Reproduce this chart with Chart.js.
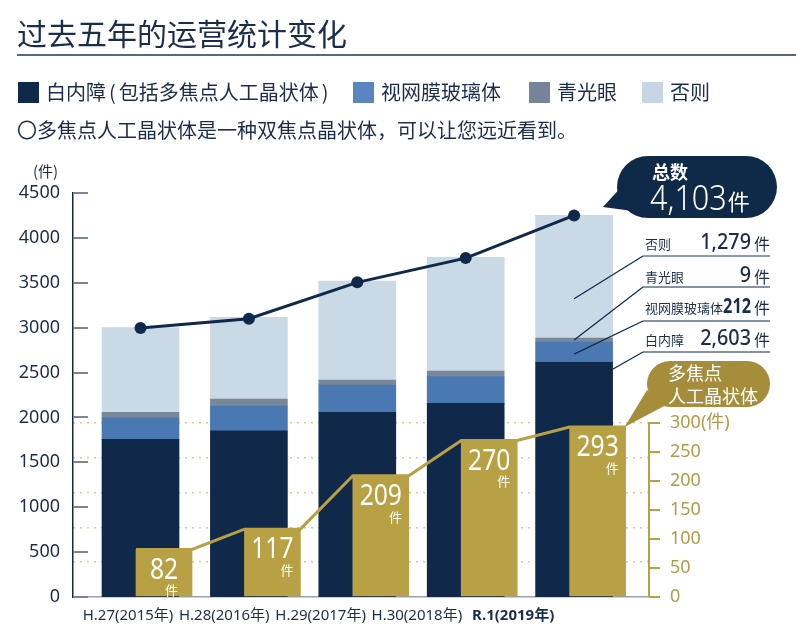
<!DOCTYPE html>
<html>
<head>
<meta charset="utf-8">
<script src="https://cdn.jsdelivr.net/npm/chart.js@4.4.0/dist/chart.umd.min.js"></script>
<style>
    body { margin: 0; background: #fff; }
    #wrap { position: relative; width: 796px; height: 644px; overflow: hidden; font-family: "Noto Sans CJK SC", "Noto Sans", sans-serif; color: #1b2d4b; }
    canvas { position: absolute; left: 0; top: 0; }
    .title { position: absolute; left: 17px; top: 12px; font-size: 30px; line-height: 40px; white-space: nowrap; }
    .rule { position: absolute; left: 17px; right: 0; top: 54px; height: 2px; background: #56697f; }
    .item { position: absolute; top: 78px; font-size: 20px; line-height: 28px; white-space: nowrap; }
    .item i { display: inline-block; width: 21px; height: 21px; margin-right: 7px; vertical-align: -3px; }
    .item b { font-weight: normal; margin: 0 3px; }
    .note { position: absolute; left: 17px; top: 116px; font-size: 20px; line-height: 28px; white-space: nowrap; }
    .unit { position: absolute; left: 33px; top: 161px; font-size: 15px; line-height: 20px; }
</style>
</head>
<body>
<div id="wrap">
    <canvas id="chart" width="796" height="644"></canvas>
    <div class="title">过去五年的运营统计变化</div>
    <div class="rule"></div>
    <div class="item" style="left:18px"><i style="background:#10284a"></i>白内障<b>(</b>包括多焦点人工晶状体<b>)</b></div>
    <div class="item" style="left:353px"><i style="background:#5a85c0"></i>视网膜玻璃体</div>
    <div class="item" style="left:529px"><i style="background:#75849a"></i>青光眼</div>
    <div class="item" style="left:642px"><i style="background:#c6d6e4"></i>否则</div>
    <div class="note">〇多焦点人工晶状体是一种双焦点晶状体，可以让您远近看到。</div>
    <div class="unit">(件)</div>
</div>
<script>
// -------------------------------------------------------------------------- Data

const years = ['H.27(2015年)', 'H.28(2016年)', 'H.29(2017年)', 'H.30(2018年)', 'R.1(2019年)']

const cataract = [1756, 1852, 2057, 2157, 2615]
const retina = [241, 275, 304, 297, 225]
const glaucoma = [60, 78, 56, 63, 45]
const others = [943, 910, 1103, 1267, 1365]
const totals = [2995, 3100, 3505, 3775, 4250]
const multifocal = [82, 117, 209, 270, 293]

const leftTicks = [0, 500, 1000, 1500, 2000, 2500, 3000, 3500, 4000, 4500]
const rightTicks = [0, 50, 100, 150, 200, 250, 300]
const dotTicks = [60, 120, 180, 240, 300]

const totalLabel = '4,103'
const breakdown = [
    ['否则', '1,279'],
    ['青光眼', '9'],
    ['视网膜玻璃体', '212'],
    ['白内障', '2,603']
]

// -------------------------------------------------------------------------- Colours

const navy = '#10284a'
const blue = '#4a78b3'
const grey = '#7a8799'
const light = '#c9d9e6'
const gold = '#b8a044'
const goldDark = '#a58d3c'
const ink = '#1b2d4b'

const numFont = '"Noto Sans", "Noto Sans CJK SC", sans-serif'
const cjkFont = '"Noto Sans CJK SC", "Noto Sans", sans-serif'

// gold bars sit a little to the right of each stacked bar
const goldShift = 0.217
const goldHalf = 0.258

const goldSteps = []
multifocal.forEach((v, i) => {
    goldSteps.push({ x: i + goldShift - goldHalf, y: v })
    goldSteps.push({ x: i + goldShift + goldHalf, y: v })
})

const stackSet = (label, values, color, order) => ({
    label: label,
    data: values.map((v, i) => ({ x: i, y: v })),
    backgroundColor: color,
    barThickness: 77,
    grouped: false,
    order: order,
    yAxisID: 'y'
})

// narrow numbers, like the condensed face of the original
const narrowText = (ctx, txt, x, y, sx) => {
    ctx.save()
    ctx.translate(x, y)
    ctx.scale(sx, 1)
    ctx.fillText(txt, 0, 0)
    ctx.restore()
}

// -------------------------------------------------------------------------- Plugin

const annotate = {
    id: 'annotate',
    beforeDatasetsDraw(chart) {
        const { ctx, chartArea } = chart
        const y = chart.scales.y
        const y2 = chart.scales.y2
        ctx.save()
        ctx.strokeStyle = '#7b8695'
        ctx.lineWidth = 2
        leftTicks.forEach(v => {
            const py = Math.round(y.getPixelForValue(v))
            ctx.beginPath()
            ctx.moveTo(chartArea.left, py)
            ctx.lineTo(chartArea.left + 15, py)
            ctx.stroke()
        })
        ctx.strokeStyle = gold
        ctx.beginPath()
        ctx.moveTo(chartArea.right, y2.getPixelForValue(0))
        ctx.lineTo(chartArea.right, y2.getPixelForValue(300) - 1)
        ctx.stroke()
        ctx.restore()
    },
    afterDatasetsDraw(chart) {
        const { ctx } = chart
        ctx.save()

        // numbers inside the gold bars
        chart.getDatasetMeta(4).data.forEach((bar, i) => {
            ctx.fillStyle = '#fff'
            ctx.textBaseline = 'middle'
            ctx.textAlign = 'center'
            ctx.font = '29px ' + numFont
            const txt = String(multifocal[i])
            const w = ctx.measureText(txt).width * 0.85
            narrowText(ctx, txt, bar.x, bar.y + 21, 0.85)
            ctx.textAlign = 'right'
            ctx.font = '13px ' + cjkFont
            ctx.fillText('件', bar.x + w / 2, bar.y + 41)
        })

        // breakdown of the last year
        const last = years.length - 1
        const segs = [3, 2, 1, 0].map(d => chart.getDatasetMeta(d).data[last])
        const anchors = [
            [segs[0].x, segs[0].y + 0.68 * (segs[0].base - segs[0].y)],
            [segs[1].x, (segs[1].y + segs[1].base) / 2],
            [segs[2].x, (segs[2].y + segs[2].base) / 2 + 2],
            [segs[3].x + segs[3].width / 2, segs[3].y + 7]
        ]
        const rowY = [243, 276, 307, 339]
        const lineY = [256, 287, 321, 352]
        breakdown.forEach((row, k) => {
            ctx.strokeStyle = k === 0 ? '#8b9bb1' : navy
            ctx.lineWidth = k === 0 ? 2 : 1.2
            ctx.beginPath()
            ctx.moveTo(770, lineY[k])
            ctx.lineTo(643, lineY[k])
            ctx.stroke()
            ctx.strokeStyle = navy
            ctx.lineWidth = 1.2
            ctx.beginPath()
            ctx.moveTo(643, lineY[k])
            ctx.lineTo(anchors[k][0], anchors[k][1])
            ctx.stroke()

            ctx.fillStyle = ink
            ctx.textBaseline = 'middle'
            ctx.textAlign = 'left'
            ctx.font = '13px ' + cjkFont
            ctx.fillText(row[0], 645, rowY[k] + 1)
            ctx.textAlign = 'right'
            ctx.font = (k === 2 ? 'bold ' : '500 ') + '22px ' + numFont
            narrowText(ctx, row[1], 751, rowY[k], k === 2 ? 0.74 : 0.9)
            ctx.textAlign = 'left'
            ctx.font = '16px ' + cjkFont
            ctx.fillText('件', 754, rowY[k] + 1)
        })

        // navy bubble: total
        ctx.fillStyle = '#0f2948'
        ctx.beginPath()
        ctx.roundRect(617, 156, 160, 62, 31)
        ctx.fill()
        ctx.beginPath()
        ctx.moveTo(603, 207)
        ctx.lineTo(624, 184)
        ctx.lineTo(640, 212)
        ctx.closePath()
        ctx.fill()
        ctx.fillStyle = '#fff'
        ctx.textAlign = 'left'
        ctx.textBaseline = 'middle'
        ctx.font = 'bold 18px ' + cjkFont
        ctx.fillText('总数', 652, 172)
        ctx.font = '300 34px ' + numFont
        const tw = ctx.measureText(totalLabel).width * 0.9
        narrowText(ctx, totalLabel, 650, 200, 0.9)
        ctx.font = '22px ' + cjkFont
        ctx.fillText('件', 650 + tw + 1, 202)

        // gold bubble: multifocal
        const g = chart.getDatasetMeta(4).data[last]
        ctx.fillStyle = goldDark
        ctx.beginPath()
        ctx.roundRect(647, 361, 123, 46, 23)
        ctx.fill()
        ctx.beginPath()
        ctx.moveTo(g.x + g.width / 2 - 1, g.y)
        ctx.lineTo(647, 390)
        ctx.lineTo(666, 405)
        ctx.closePath()
        ctx.fill()
        ctx.fillStyle = '#fff'
        ctx.font = '18px ' + cjkFont
        ctx.fillText('多焦点', 668, 373)
        ctx.fillText('人工晶状体', 668, 396)

        ctx.restore()
    }
}

// -------------------------------------------------------------------------- Chart

const xMin = -0.6227
const xMax = 4.691

new Chart(document.getElementById('chart'), {
    type: 'bar',
    data: {
        datasets: [
            stackSet('白内障', cataract, navy, 3),
            stackSet('视网膜玻璃体', retina, blue, 4),
            stackSet('青光眼', glaucoma, grey, 5),
            stackSet('否则', others, light, 6),
            {
                label: '多焦点人工晶状体',
                data: multifocal.map((v, i) => ({ x: i + goldShift, y: v })),
                backgroundColor: gold,
                barThickness: 56,
                grouped: false,
                order: 2,
                yAxisID: 'y2'
            },
            {
                type: 'line',
                label: 'steps',
                data: goldSteps,
                borderColor: gold,
                borderWidth: 3,
                pointRadius: 0,
                tension: 0,
                order: 1,
                yAxisID: 'y2'
            },
            {
                type: 'line',
                label: '总数',
                data: totals.map((v, i) => ({ x: i, y: v })),
                borderColor: navy,
                backgroundColor: navy,
                borderWidth: 3,
                pointRadius: 6,
                pointBackgroundColor: navy,
                pointBorderWidth: 0,
                tension: 0,
                stack: 'total',
                order: 0,
                yAxisID: 'y'
            }
        ]
    },
    options: {
        responsive: false,
        animation: false,
        events: [],
        layout: { padding: { left: 0, top: 193, right: 57, bottom: 0 } },
        plugins: {
            legend: { display: false },
            tooltip: { enabled: false }
        },
        scales: {
            x: {
                type: 'linear',
                position: 'bottom',
                min: xMin,
                max: xMax,
                offset: false,
                grid: { display: false, drawTicks: false },
                ticks: { display: false },
                border: { display: true, color: '#98a1ad', width: 1.5 },
                afterFit: s => { s.height = 0 }
            },
            xl: {
                type: 'linear',
                position: 'bottom',
                min: -0.5711,
                max: 5.4104,
                offset: false,
                grid: { display: false, drawTicks: false },
                border: { display: false },
                afterBuildTicks: s => { s.ticks = years.map((t, i) => ({ value: i })) },
                ticks: {
                    autoSkip: false,
                    maxRotation: 0,
                    padding: 10,
                    color: ink,
                    font: ctx => ({
                        family: numFont,
                        size: 15,
                        weight: ctx.index === years.length - 1 ? 'bold' : 'normal'
                    }),
                    callback: (v, i) => years[i]
                },
                afterFit: s => { s.height = 47 }
            },
            y: {
                position: 'left',
                stacked: true,
                min: 0,
                max: 4500,
                grid: { display: false, drawTicks: false },
                border: { display: true, color: navy, width: 1.5 },
                afterBuildTicks: s => { s.ticks = leftTicks.map(v => ({ value: v })) },
                ticks: {
                    color: ink,
                    padding: 13,
                    font: { family: numFont, size: 18 },
                    callback: v => String(v)
                },
                afterFit: s => { s.width = 73 }
            },
            y2: {
                position: 'right',
                min: 0,
                max: 696.5,
                grid: { drawOnChartArea: false, color: gold, lineWidth: 2, tickLength: 11 },
                border: { display: false },
                afterBuildTicks: s => { s.ticks = rightTicks.map(v => ({ value: v })) },
                ticks: {
                    color: '#b39b4a',
                    padding: 10,
                    font: { family: numFont, size: 18 },
                    callback: v => v === 300 ? '300(件)' : String(v)
                },
                afterFit: s => { s.width = 90 }
            },
            yg: {
                position: 'right',
                min: 0,
                max: 696.5,
                grid: { color: '#d8cb94', lineWidth: 1.5, drawTicks: false },
                border: { display: false, dash: [2, 5] },
                afterBuildTicks: s => { s.ticks = dotTicks.map(v => ({ value: v })) },
                ticks: { display: false },
                afterFit: s => { s.width = 0 }
            }
        }
    },
    plugins: [annotate]
})
</script>
</body>
</html>
